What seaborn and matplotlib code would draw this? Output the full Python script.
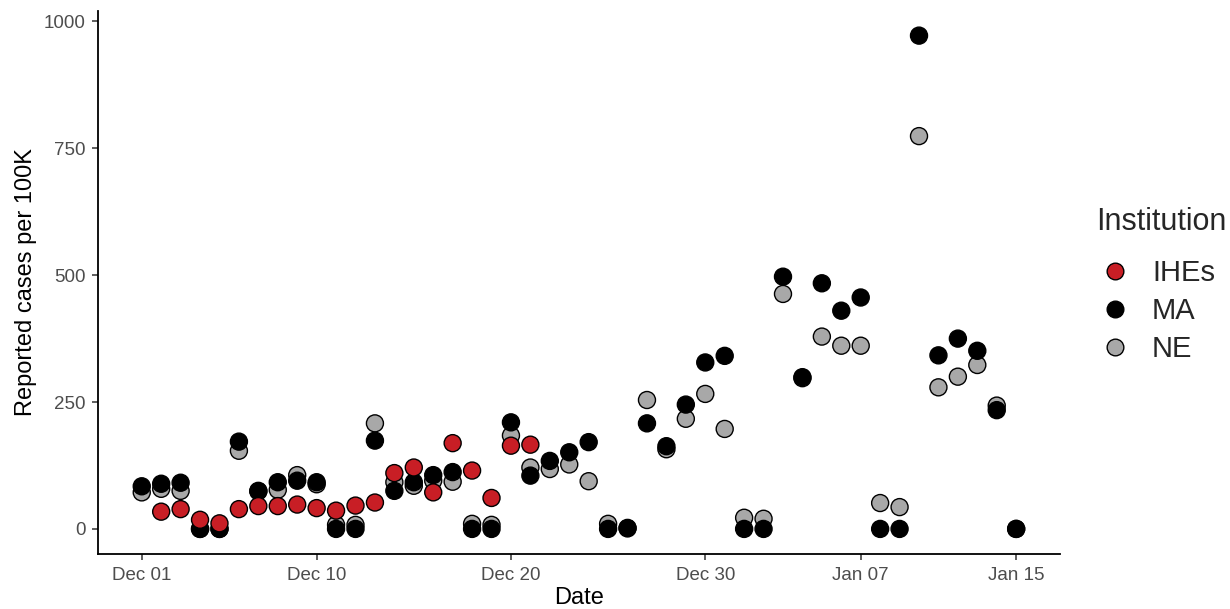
import numpy as np
import pandas as pd
import matplotlib
matplotlib.use("Agg")
import matplotlib.pyplot as plt
import matplotlib.dates as mdates
from matplotlib.lines import Line2D
import seaborn as sns

start_date = "2020-12-01"
n_days = 46

ma_values = [84, 89, 91, 0, 0, 172, 75, 92, 95, 92,
             0, 0, 174, 75, 92, 106, 112, 0, 0, 210,
             105, 134, 151, 171, 0, 1, 208, 163, 245, 328,
             341, 0, 0, 497, 299, 484, 430, 456, 0, 0,
             972, 342, 375, 351, 234, 0]
ne_values = [72, 79, 75, 0, 0, 154, 74, 77, 106, 88,
             8, 8, 208, 92, 85, 95, 93, 10, 8, 184,
             121, 118, 127, 94, 10, 2, 254, 157, 217, 266,
             197, 22, 20, 463, 297, 379, 361, 361, 51, 43,
             774, 279, 300, 323, 243, 0]
ihe_values = [np.nan, 34, 39, 18, 11, 39, 45, 45, 48, 41,
              36, 46, 52, 110, 121, 72, 169, 115, 61, 164,
              166] + [np.nan] * 25

institutions = ["IHEs", "MA", "NE"]
colors = {"IHEs": "#C81E25", "MA": "#000000", "NE": "#A8A8A8"}
tick_dates = ["2020-12-01", "2020-12-10", "2020-12-20", "2020-12-30", "2021-01-07", "2021-01-15"]
y_ticks = [0, 250, 500, 750, 1000]

dates = pd.date_range(start_date, periods=n_days)
# draw order: NE, MA, IHEs (IHEs on top)
df = pd.concat([
    pd.DataFrame({"Date": dates, "value": ne_values, "Institution": "NE"}),
    pd.DataFrame({"Date": dates, "value": ma_values, "Institution": "MA"}),
    pd.DataFrame({"Date": dates, "value": ihe_values, "Institution": "IHEs"}),
], ignore_index=True).dropna()

sns.set_theme(style="ticks")
plt.rcParams["font.family"] = ["Liberation Sans", "DejaVu Sans"]

fig = plt.figure(figsize=(12.3, 6.09), dpi=100)
ax = fig.add_axes([0.0797, 0.091, 0.782, 0.891])

sns.scatterplot(data=df, x="Date", y="value", hue="Institution",
                palette=colors, s=150, edgecolor="black", linewidth=1.0,
                legend=False, ax=ax, zorder=3)

span = (dates[-1] - dates[0])
pad = span * 0.05
ax.set_xlim(dates[0] - pad, dates[-1] + pad)
ymax = np.nanmax(ma_values)
ax.set_ylim(-0.05 * ymax, ymax * 1.05)

ax.set_xticks(pd.to_datetime(tick_dates))
ax.xaxis.set_major_formatter(mdates.DateFormatter("%b %d"))
ax.set_yticks(y_ticks)

for s in ["top", "right"]:
    ax.spines[s].set_visible(False)
for s in ["left", "bottom"]:
    ax.spines[s].set_color("black")
    ax.spines[s].set_linewidth(1.3)
ax.tick_params(axis="both", colors="#333333", labelcolor="#4D4D4D",
               labelsize=13.5, length=4, width=1.1)
ax.tick_params(axis="x", pad=6)
ax.tick_params(axis="y", pad=5)
ax.set_xlabel("Date", fontsize=17, color="black", labelpad=2)
ax.set_ylabel("Reported cases per 100K", fontsize=17, color="black", labelpad=5)

handles = [Line2D([0], [0], marker="o", linestyle="", markersize=12,
                  markerfacecolor=colors[k], markeredgecolor="black",
                  markeredgewidth=1.0, label=k) for k in institutions]
leg = fig.legend(handles=handles, title="Institution", loc="upper left",
                 bbox_to_anchor=(0.882, 0.679), frameon=False, fontsize=21,
                 title_fontsize=22, handlelength=1.3, handletextpad=0.6,
                 labelspacing=0.34, borderaxespad=0)
leg._legend_box.align = "left"
leg._legend_box.sep = 16

fig.savefig("out.png", dpi=100)
